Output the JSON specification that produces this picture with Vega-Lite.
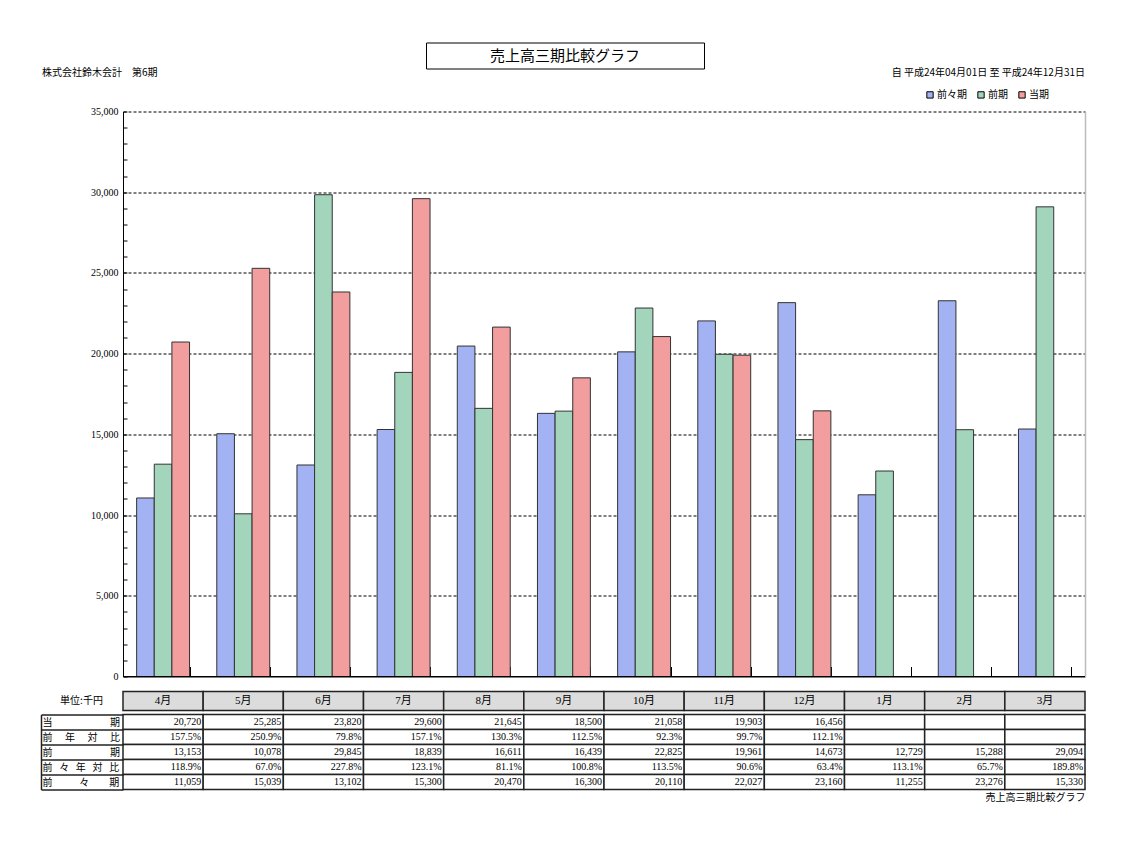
{
  "$schema": "https://vega.github.io/schema/vega-lite/v6.json",
  "background": "white",
  "padding": {"left": 40, "top": 41.5, "right": 2, "bottom": 2},
  "config": {
    "font": "Liberation Serif, Noto Sans CJK JP",
    "view": {"stroke": null},
    "axis": {"labelColor": "#000", "titleColor": "#000", "titleFontWeight": "normal", "labelFont": "Liberation Serif, Noto Sans CJK JP", "titleFont": "Noto Sans CJK JP"},
    "title": {"color": "#000", "fontWeight": "normal", "font": "Noto Sans CJK JP", "fontSize": 10},
    "legend": {"labelColor": "#000", "labelFont": "Noto Sans CJK JP"}
  },
  "resolve": {"legend": {"color": "independent"}},
  "datasets": {
    "sales": [
      {"month": "4月", "前々期": 11059, "前期": 13153, "当期": 20720, "前年対比": 1.575, "前々年対比": 1.189},
      {"month": "5月", "前々期": 15039, "前期": 10078, "当期": 25285, "前年対比": 2.509, "前々年対比": 0.670},
      {"month": "6月", "前々期": 13102, "前期": 29845, "当期": 23820, "前年対比": 0.798, "前々年対比": 2.278},
      {"month": "7月", "前々期": 15300, "前期": 18839, "当期": 29600, "前年対比": 1.571, "前々年対比": 1.231},
      {"month": "8月", "前々期": 20470, "前期": 16611, "当期": 21645, "前年対比": 1.303, "前々年対比": 0.811},
      {"month": "9月", "前々期": 16300, "前期": 16439, "当期": 18500, "前年対比": 1.125, "前々年対比": 1.008},
      {"month": "10月", "前々期": 20110, "前期": 22825, "当期": 21058, "前年対比": 0.923, "前々年対比": 1.135},
      {"month": "11月", "前々期": 22027, "前期": 19961, "当期": 19903, "前年対比": 0.997, "前々年対比": 0.906},
      {"month": "12月", "前々期": 23160, "前期": 14673, "当期": 16456, "前年対比": 1.121, "前々年対比": 0.634},
      {"month": "1月", "前々期": 11255, "前期": 12729, "当期": null, "前年対比": null, "前々年対比": 1.131},
      {"month": "2月", "前々期": 23276, "前期": 15288, "当期": null, "前年対比": null, "前々年対比": 0.657},
      {"month": "3月", "前々期": 15330, "前期": 29094, "当期": null, "前年対比": null, "前々年対比": 1.898}
    ]
  },
  "spacing": -2,
  "vconcat": [
    {
      "spacing": 0,
      "hconcat": [
        {
          "width": 302, "height": 49,
          "data": {"values": [{}]},
          "title": {"text": "株式会社鈴木会計　第6期", "orient": "bottom", "anchor": "start", "offset": -24, "dx": -81, "fontSize": 10},
          "mark": {"type": "text"},
          "encoding": {"text": {"value": ""}}
        },
        {
          "width": 278, "height": 26,
          "view": {"stroke": "#000", "strokeWidth": 1, "fill": "white"},
          "data": {"values": [{"t": "売上高三期比較グラフ"}]},
          "mark": {"type": "text", "fontSize": 15, "font": "Noto Sans CJK JP", "color": "#000"},
          "encoding": {"text": {"field": "t", "type": "nominal"}}
        },
        {
          "width": 382, "height": 49,
          "data": {"values": [{}]},
          "title": {"text": "自 平成24年04月01日 至 平成24年12月31日", "orient": "bottom", "anchor": "end", "offset": -24, "dx": -2, "fontSize": 10},
          "mark": {"type": "text"},
          "encoding": {"text": {"value": ""}}
        }
      ]
    },
    {
      "width": 962, "height": 565,
      "data": {"name": "sales"},
      "layer": [
        {
          "transform": [{"fold": ["前々期", "前期", "当期"], "as": ["series", "value"]}],
          "mark": {"type": "bar", "stroke": "#333", "strokeWidth": 1},
          "encoding": {
            "x": {"field": "month", "type": "nominal", "sort": null,
                  "scale": {"paddingInner": 0.34, "paddingOuter": 0.17},
                  "axis": {"title": null, "labels": false, "tickBand": "extent", "tickSize": -10, "tickColor": "#000", "domainColor": "#000", "grid": false, "minExtent": 14.5, "maxExtent": 14.5}},
            "xOffset": {"field": "series", "type": "nominal", "scale": {"domain": ["前々期", "前期", "当期"]}},
            "y": {"field": "value", "type": "quantitative",
                  "scale": {"domain": [0, 35000], "nice": false},
                  "axis": {"title": null,
                           "values": [0,1000,2000,3000,4000,5000,6000,7000,8000,9000,10000,11000,12000,13000,14000,15000,16000,17000,18000,19000,20000,21000,22000,23000,24000,25000,26000,27000,28000,29000,30000,31000,32000,33000,34000,35000],
                           "labelExpr": "datum.value % 5000 === 0 ? format(datum.value, ',') : ''",
                           "labelFontSize": 10, "labelPadding": 9,
                           "tickSize": -4, "tickColor": "#000", "domainColor": "#000",
                           "grid": true, "gridColor": "#000", "gridDash": [3, 2],
                           "gridOpacity": {"condition": {"test": "datum.value % 5000 === 0 && datum.value > 0", "value": 1}, "value": 0},
                           "minExtent": 83, "maxExtent": 83}},
            "color": {"field": "series", "type": "nominal",
                      "scale": {"domain": ["前々期", "前期", "当期"], "range": ["#a2b2f2", "#a3d5bd", "#f29e9e"]},
                      "legend": {"orient": "none", "legendX": 802, "legendY": -22, "padding": 0, "direction": "horizontal", "title": null,
                                 "symbolType": "square", "symbolSize": 40, "symbolStrokeColor": "#000", "symbolStrokeWidth": 1,
                                 "labelFontSize": 10, "labelOffset": 2, "columnPadding": 8}}
          }
        },
        {
          "mark": {"type": "rule", "color": "#000", "strokeWidth": 1},
          "encoding": {
            "y": {"datum": 0, "type": "quantitative",
                  "axis": {"orient": "right", "title": null, "labels": false, "ticks": false, "grid": false, "domainColor": "#bbbbbb", "domainWidth": 1.5}}
          }
        }
      ],
      "resolve": {"axis": {"y": "independent"}}
    },
    {
      "width": 962, "height": 19,
      "data": {"name": "sales"},
      "encoding": {
        "x": {"field": "month", "type": "nominal", "sort": null, "scale": {"paddingInner": 0, "paddingOuter": 0}, "axis": null},
        "y": {"datum": "単位:千円", "type": "nominal", "scale": {"paddingInner": 0, "paddingOuter": 0},
              "axis": {"title": null, "domain": false, "ticks": false, "labelPadding": 42, "labelAlign": "center", "labelFont": "Noto Sans CJK JP", "labelFontSize": 10, "minExtent": 83, "maxExtent": 83}}
      },
      "layer": [
        {"mark": {"type": "rect", "fill": "#dcdcdc", "stroke": "#222", "strokeWidth": 1.5}},
        {"mark": {"type": "text", "fontSize": 11, "font": "Liberation Serif, Noto Sans CJK JP", "color": "#000"},
         "encoding": {"text": {"field": "month", "type": "nominal"}}}
      ]
    },
    {
      "width": 962, "height": 75,
      "data": {"name": "sales"},
      "transform": [{"fold": ["当期", "前年対比", "前期", "前々年対比", "前々期"], "as": ["row", "value"]}],
      "encoding": {
        "x": {"field": "month", "type": "nominal", "sort": null, "scale": {"paddingInner": 0, "paddingOuter": 0},
              "axis": {"title": "売上高三期比較グラフ", "titleAnchor": "end", "titleFontSize": 10, "titlePadding": 3, "labels": false, "ticks": false, "domain": false}},
        "y": {"field": "row", "type": "nominal", "sort": ["当期", "前年対比", "前期", "前々年対比", "前々期"],
              "scale": {"paddingInner": 0, "paddingOuter": 0},
              "axis": {"title": null, "offset": 82, "domain": true, "domainColor": "#222", "domainWidth": 1.5,
                       "ticks": true, "tickBand": "extent", "tickSize": -82, "tickColor": "#222", "tickWidth": 1.5,
                       "labelAlign": "left", "labelBaseline": "middle", "labelPadding": 81, "labelFont": "Noto Sans CJK JP", "labelFontSize": 10,
                       "labelExpr": "({'当期': '当　　　　　\u2002\u2005期', '前年対比': '前　\u2005年　\u2005対　\u2005比', '前期': '前　　　　　\u2002\u2005期', '前々年対比': '前\u2002\u2006々\u2002\u2006年\u2002\u2006対\u2002\u2006比', '前々期': '前　　\u2002\u2006々　　期'})[datum.value]"}}
      },
      "layer": [
        {"mark": {"type": "rect", "fill": "white", "stroke": "#222", "strokeWidth": 1.5}},
        {
          "transform": [{"filter": {"field": "row", "oneOf": ["当期", "前期", "前々期"]}}, {"filter": "isValid(datum.value)"}],
          "mark": {"type": "text", "align": "right", "dx": -2, "fontSize": 10, "font": "Liberation Serif", "color": "#000"},
          "encoding": {
            "x": {"field": "month", "type": "nominal", "sort": null, "bandPosition": 1},
            "text": {"field": "value", "type": "quantitative", "format": ","}
          }
        },
        {
          "transform": [{"filter": {"field": "row", "oneOf": ["前年対比", "前々年対比"]}}, {"filter": "isValid(datum.value)"}],
          "mark": {"type": "text", "align": "right", "dx": -2, "fontSize": 10, "font": "Liberation Serif", "color": "#000"},
          "encoding": {
            "x": {"field": "month", "type": "nominal", "sort": null, "bandPosition": 1},
            "text": {"field": "value", "type": "quantitative", "format": ".1%"}
          }
        }
      ]
    }
  ]
}
